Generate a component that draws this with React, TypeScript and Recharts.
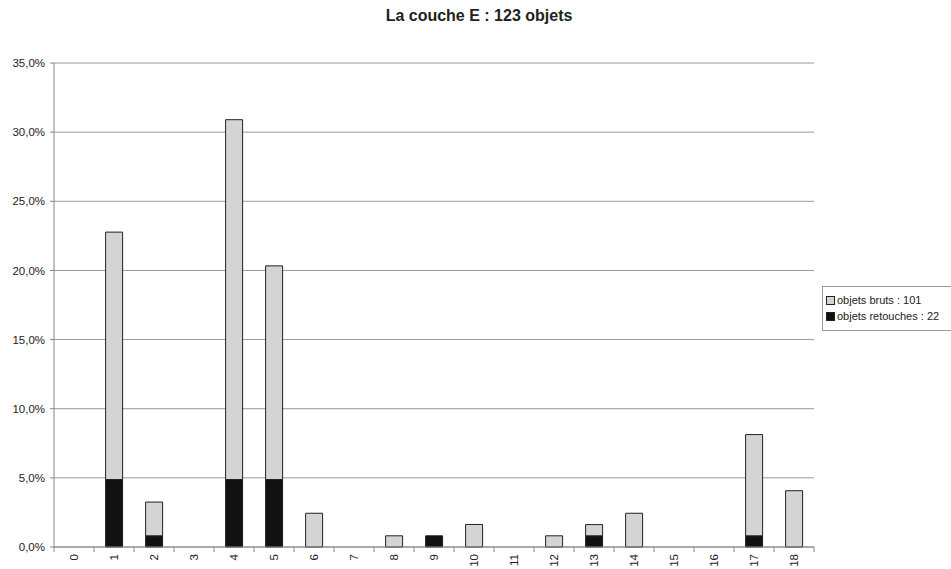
import { Bar, BarChart, CartesianGrid, XAxis, YAxis } from "recharts";

// La couche E : share of each class among 123 objects (percent)
const classes = ["0", "1", "2", "3", "4", "5", "6", "7", "8", "9", "10", "11", "12", "13", "14", "15", "16", "17", "18"];
const retouches = [0, 4.88, 0.81, 0, 4.88, 4.88, 0, 0, 0, 0.81, 0, 0, 0, 0.81, 0, 0, 0, 0.81, 0];
const bruts = [0, 17.89, 2.44, 0, 26.02, 15.45, 2.44, 0, 0.81, 0, 1.63, 0, 0.81, 0.81, 2.44, 0, 0, 7.32, 4.07];
const yTicks = [0, 5, 10, 15, 20, 25, 30, 35];
const legendItems = [
  { label: "objets bruts : 101", color: "#d4d4d4" },
  { label: "objets retouches : 22", color: "#111" },
];

const data = classes.map((c, i) => ({ classe: c, retouches: retouches[i], bruts: bruts[i] }));

const FONT = "'Liberation Sans', Arial, sans-serif";
const BAND = 760 / classes.length;

function ClassTick(props: any) {
  const { x, y, payload, index } = props;
  const last = index === classes.length - 1;
  return (
    <g>
      <line x1={x - BAND / 2} y1={y - 8} x2={x - BAND / 2} y2={y - 3} stroke="#888" />
      {last && <line x1={x + BAND / 2} y1={y - 8} x2={x + BAND / 2} y2={y - 3} stroke="#888" />}
      <text
        x={x}
        y={y - 1}
        transform={`rotate(-90 ${x} ${y - 1})`}
        textAnchor="end"
        dominantBaseline="central"
        fontSize={11.5}
        fontFamily={FONT}
        fill="#222"
      >
        {payload.value}
      </text>
    </g>
  );
}

function LegendBox() {
  return (
    <div
      style={{
        position: "absolute",
        left: 822,
        top: 286,
        width: 135,
        border: "1px solid #999",
        padding: "5px 6px 6px 3px",
        fontFamily: FONT,
        fontSize: 11,
        color: "#222",
        background: "#fff",
      }}
    >
      {legendItems.map((it) => (
        <div key={it.label} style={{ display: "flex", alignItems: "center", height: 16 }}>
          <span
            style={{
              display: "inline-block",
              width: 7,
              height: 7,
              background: it.color,
              border: "1px solid #222",
              marginRight: 2,
            }}
          />
          {it.label}
        </div>
      ))}
    </div>
  );
}

export default function App() {
  return (
    <div style={{ position: "absolute", left: 0, top: 0, width: 951, height: 569, background: "#fff", overflow: "hidden" }}>
      <div
        style={{
          position: "absolute",
          left: 0,
          top: 7,
          width: 958,
          textAlign: "center",
          fontFamily: FONT,
          fontWeight: "bold",
          fontSize: 16,
          color: "#222",
        }}
      >
        La couche E : 123 objets
      </div>
      <BarChart
        width={951}
        height={569}
        data={data}
        margin={{ top: 63, right: 137, left: 0, bottom: 0 }}
        barCategoryGap="29%"
      >
        <CartesianGrid vertical={false} stroke="#999" />
        <XAxis
          dataKey="classe"
          height={22}
          interval={0}
          tickLine={false}
          axisLine={{ stroke: "#888" }}
          tick={<ClassTick />}
        />
        <YAxis
          domain={[0, 35]}
          ticks={yTicks}
          width={54}
          tickSize={4}
          tickMargin={5}
          axisLine={{ stroke: "#888" }}
          tickLine={{ stroke: "#888" }}
          tick={{ fontSize: 11.5, fontFamily: FONT, fill: "#222" }}
          tickFormatter={(v: number) => `${v.toFixed(1).replace(".", ",")}%`}
        />
        <YAxis yAxisId="frame" orientation="right" width={0} tick={false} tickLine={false} axisLine={{ stroke: "#888" }} />
        <Bar dataKey="retouches" stackId="a" fill="#111" stroke="#222" isAnimationActive={false} />
        <Bar dataKey="bruts" stackId="a" fill="#d4d4d4" stroke="#222" isAnimationActive={false} />
      </BarChart>
      <LegendBox />
    </div>
  );
}
